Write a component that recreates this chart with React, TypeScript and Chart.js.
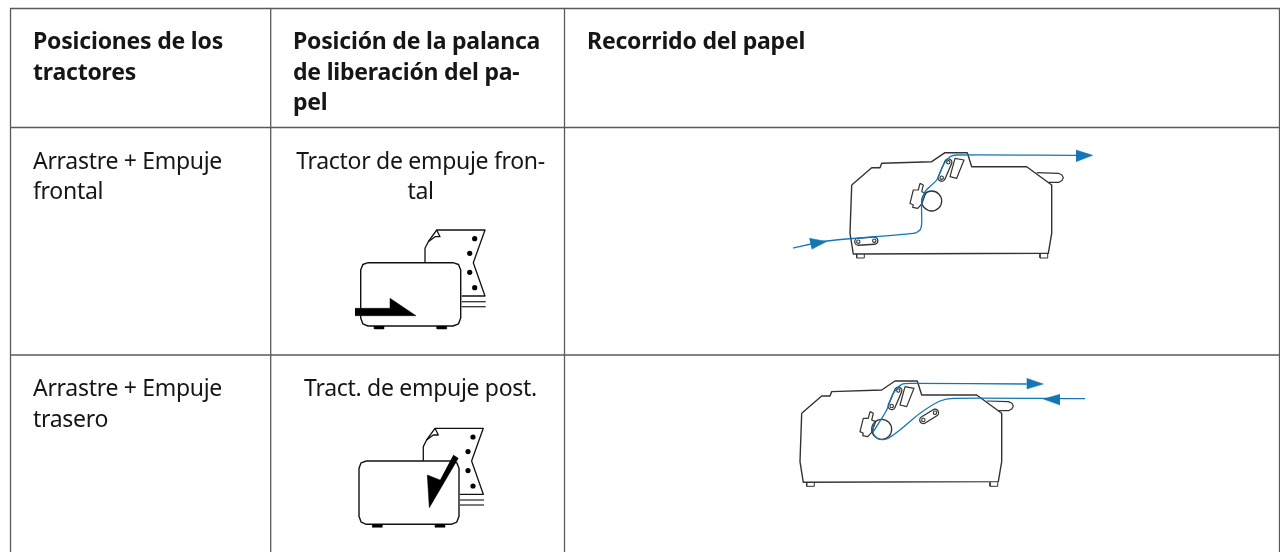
import React, { useEffect, useRef } from "react";
import { Chart, registerables } from "chart.js";

Chart.register(...registerables);

type P = [number, number];

const INK = "#333333";
const BLUE = "#1477b5";
const RULE = "#5a5a5a";

const tableRows: P[][] = [
  [[10.5, 8.5], [1279.5, 8.5]],
  [[10.5, 127.5], [1279.5, 127.5]],
  [[10.5, 355], [1279.5, 355]],
  [[10.5, 8.5], [10.5, 552]],
  [[270.7, 8.5], [270.7, 552]],
  [[564.5, 8.5], [564.5, 552]],
  [[1279.5, 8.5], [1279.5, 552]],
];

const printerBody: P[] = [[851.7, 185], [871.7, 167.7], [880, 167.7], [881.7, 163.3], [931.7, 161.7], [945, 152.7], [967.3, 152.7], [971.7, 166.7], [1026.7, 166.7], [1051.7, 185], [1051.7, 233.3], [1048.3, 253.3], [853.3, 254], [850, 233.3], [851.7, 185]];
const printerFootA: P[] = [[856.7, 254], [856.7, 258], [864.3, 258], [864.3, 254]];
const printerFootB: P[] = [[1040, 254], [1040, 258], [1047.7, 258], [1047.7, 254]];
const printerLever: P[] = [[1036.7, 172.7], [1058.3, 173.3], [1062, 175], [1063.3, 177.7], [1062, 180.5], [1059, 182.3], [1048.3, 182.3]];
const printerGuide: P[] = [[955, 158.3], [964, 160], [956.7, 178.3], [950, 176.7], [955, 158.3]];
const printerBail: P[] = [[920, 183.3], [923.3, 185], [921.7, 191.7], [925.7, 193.3], [921.7, 204], [917.7, 208.3], [912.7, 207.3], [913.3, 205], [910, 203.3], [913.3, 190], [918.3, 190], [920, 183.3]];
const topPill: P[] = [[948.3, 162.3], [941.7, 177.7]];
const platen: P[] = [[931.7, 201]];

const lowerPill: P[] = [[858.3, 241.7], [874.3, 240.7]];
const rearPill: P[] = [[923.3, 420], [935, 412.7]];

const frontPath: P[] = [[793.3, 248], [826.7, 241], [913.3, 233.3], [920, 230], [921.7, 223.3], [921.7, 205], [925, 191.7], [936.7, 180], [943.3, 165], [950, 156.7], [956.7, 155], [1076.7, 155.3]];
const frontHeadOut: P[] = [[1076, 150], [1092.7, 155.3], [1076, 161.7]];
const frontHeadIn: P[] = [[809.3, 238.3], [826.7, 241.5], [811.7, 249.3]];

const rearOutPath: P[] = [[873.3, 431.7], [886.7, 410], [893.3, 393.3], [901.7, 384.3], [913.3, 383.3], [1026.7, 384]];
const rearInPath: P[] = [[1085, 398.7], [953.3, 398.3], [940, 401], [920, 413.3], [900, 430], [886.7, 439], [878.3, 439], [873.3, 433.3], [874, 423]];
const rearHeadOut: P[] = [[1026.7, 378.3], [1043.3, 384], [1026.7, 389]];
const rearHeadIn: P[] = [[1060, 394.3], [1043.3, 399], [1060, 405]];

const iconBox: P[] = [[368, 262.7], [453, 262.7], [458.5, 264.5], [460.7, 270], [460.7, 318], [458.5, 323.8], [453, 326], [368, 326], [362.8, 323.8], [360.7, 318], [360.7, 270], [362.8, 264.5], [368, 262.7]];
const iconFootA: P[] = [[374.3, 326], [374.3, 329], [384, 329], [384, 326]];
const iconFootB: P[] = [[437, 326], [437, 329], [446.7, 329], [446.7, 326]];
const iconPaper: P[] = [[425, 262.7], [425, 248.3], [428.3, 241.7], [436.7, 230], [485, 230], [473.3, 262.7], [485, 296], [461.7, 296]];
const iconCurl: P[] = [[436.7, 230], [440, 236.7], [435, 236.7], [428.3, 241.7]];
const iconHoles: P[] = [[474.7, 238.7], [469.7, 253.3], [469.7, 272.3], [474.7, 287.7]];
const iconSheetA: P[] = [[461.7, 301.7], [485.7, 301.7]];
const iconSheetB: P[] = [[461.7, 306.7], [485.7, 306.7]];
const frontLever: P[] = [[355, 308.3], [390, 308.3], [390, 298.3], [416, 315.7], [355, 315.7]];
const rearLever: P[] = [[453.3, 455], [458.3, 458.3], [429.3, 507.7], [427.3, 475], [440, 480]];

const shift = (pts: P[], dx: number, dy: number): P[] => pts.map(([x, y]) => [x + dx, y + dy]);

const toData = (pts: P[]) => pts.map(([x, y]) => ({ x, y }));

const line = (pts: P[], color: string, width: number, extra: object = {}) => ({
  data: toData(pts),
  showLine: true,
  borderColor: color,
  borderWidth: width,
  pointRadius: 0,
  borderJoinStyle: "round",
  ...extra,
});
const solid = (pts: P[], color: string) => line(pts, color, 0.5, { fill: "shape", backgroundColor: color });
const dots = (pts: P[], radius: number, fillColor: string, stroke: string, strokeWidth: number) => ({
  data: toData(pts),
  showLine: false,
  pointRadius: radius,
  pointBackgroundColor: fillColor,
  pointBorderColor: stroke,
  pointBorderWidth: strokeWidth,
});
const pill = (pts: P[]) => [
  line(pts, INK, 8.4, { borderCapStyle: "round" }),
  line(pts, "#ffffff", 5.8, { borderCapStyle: "round" }),
  dots(pts, 1.7, "#ffffff", INK, 1.1),
];
const printer = (dx: number, dy: number) => [
  line(shift(printerBody, dx, dy), INK, 1.4),
  line(shift(printerFootA, dx, dy), INK, 1),
  line(shift(printerFootB, dx, dy), INK, 1),
  line(shift(printerLever, dx, dy), INK, 1.2),
  line(shift(printerGuide, dx, dy), INK, 1.2),
  line(shift(printerBail, dx, dy), INK, 1.2),
  ...pill(shift(topPill, dx, dy)),
  dots(shift(platen, dx, dy), 10, "rgba(255,255,255,0)", INK, 1.3),
];
const icon = (dx: number, dy: number) => [
  line(shift(iconPaper, dx, dy), "#111111", 1.3),
  line(shift(iconCurl, dx, dy), "#111111", 1.3),
  dots(shift(iconHoles, dx, dy), 2.6, "#000000", "#000000", 0),
  line(shift(iconSheetA, dx, dy), "#333333", 1.3),
  line(shift(iconSheetB, dx, dy), "#333333", 1.3),
  line(shift(iconBox, dx, dy), "#111111", 1.4),
  solid(shift(iconFootA, dx, dy), "#000000"),
  solid(shift(iconFootB, dx, dy), "#000000"),
];

type T = { text: string; x: number; y: number; bold?: boolean; center?: boolean };
const labels: T[] = [
  { text: "Posiciones de los", x: 33, y: 49, bold: true },
  { text: "tractores", x: 33, y: 79.5, bold: true },
  { text: "Posición de la palanca", x: 293, y: 49, bold: true },
  { text: "de liberación del pa-", x: 293, y: 79.5, bold: true },
  { text: "pel", x: 293, y: 110, bold: true },
  { text: "Recorrido del papel", x: 587, y: 49, bold: true },
  { text: "Arrastre + Empuje", x: 33, y: 168.5 },
  { text: "frontal", x: 33, y: 198.5 },
  { text: "Tractor de empuje fron-", x: 420.5, y: 168.5, center: true },
  { text: "tal", x: 420.5, y: 198.5, center: true },
  { text: "Arrastre + Empuje", x: 33, y: 396 },
  { text: "trasero", x: 33, y: 426.5 },
  { text: "Tract. de empuje post.", x: 420.5, y: 396, center: true },
];

const textPlugin = {
  id: "tableText",
  afterDatasetsDraw(chart: any) {
    const { ctx, scales } = chart;
    ctx.save();
    ctx.fillStyle = "#161616";
    ctx.textBaseline = "alphabetic";
    for (const t of labels) {
      ctx.font = `${t.bold ? "700 " : ""}23px "Noto Sans"`;
      ctx.letterSpacing = t.bold ? "-0.2px" : "-0.3px";
      ctx.textAlign = t.center ? "center" : "left";
      ctx.fillText(t.text, scales.x.getPixelForValue(t.x), scales.y.getPixelForValue(t.y));
    }
    ctx.restore();
  },
};

export default function App() {
  const ref = useRef<HTMLCanvasElement>(null);
  useEffect(() => {
    const painted: any[] = [
      ...tableRows.map((r) => line(r, RULE, 1.3)),
      ...printer(0, 0),
      ...pill(lowerPill),
      line(frontPath, BLUE, 1.3, { tension: 0.25 }),
      solid(frontHeadOut, BLUE),
      solid(frontHeadIn, BLUE),
      ...printer(-50, 228.3),
      ...pill(rearPill),
      line(rearOutPath, BLUE, 1.3, { tension: 0.25 }),
      line(rearInPath, BLUE, 1.3, { tension: 0.25 }),
      solid(rearHeadOut, BLUE),
      solid(rearHeadIn, BLUE),
      ...icon(0, 0),
      solid(frontLever, "#000000"),
      ...icon(-1.7, 198.3),
      solid(rearLever, "#000000"),
    ];
    const chart = new Chart(ref.current!, {
      type: "scatter",
      data: { datasets: painted.reverse() },
      options: {
        animation: false,
        responsive: false,
        events: [],
        layout: { padding: 0, autoPadding: false },
        plugins: { legend: { display: false }, tooltip: { enabled: false } },
        scales: {
          x: { type: "linear", min: 0, max: 1280, display: false },
          y: { type: "linear", min: 0, max: 552, reverse: true, display: false },
        },
      },
      plugins: [textPlugin],
    } as any);
    return () => chart.destroy();
  }, []);
  return (
    <div style={{ position: "absolute", left: 0, top: 0, width: 1280, height: 552, background: "#fff", overflow: "hidden" }}>
      <canvas ref={ref} width={1280} height={552} style={{ display: "block" }} />
    </div>
  );
}
